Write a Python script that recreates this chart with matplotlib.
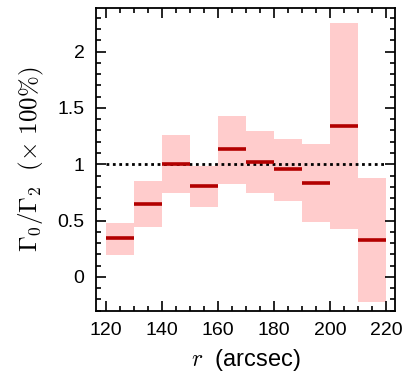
import numpy as np
import matplotlib
matplotlib.use("Agg")
import matplotlib.pyplot as plt
from matplotlib.ticker import MultipleLocator

plt.rcParams.update({
    "font.family": "Liberation Sans",
    "mathtext.fontset": "cm",
    "font.size": 14,
})

# bin edges (arcsec) and ratio values
r_lo = [120, 130, 140, 150, 160, 170, 180, 190, 200, 210]
r_hi = [130, 140, 150, 160, 170, 180, 190, 200, 210, 220]
ratio = [0.343, 0.645, 1.00, 0.807, 1.133, 1.02, 0.958, 0.837, 1.343, 0.331]
ratio_lo = [0.195, 0.446, 0.742, 0.618, 0.822, 0.742, 0.677, 0.488, 0.426, -0.219]
ratio_hi = [0.479, 0.849, 1.257, 0.988, 1.429, 1.295, 1.224, 1.183, 2.257, 0.878]

fig = plt.figure(figsize=(4.15, 3.87), dpi=100)
ax = fig.add_axes([0.2306, 0.197, 0.7219, 0.7816])

for a, b, lo, hi in zip(r_lo, r_hi, ratio_lo, ratio_hi):
    ax.fill_between([a, b], lo, hi, color="#ffcccc", lw=0, zorder=1)
for a, b, m in zip(r_lo, r_hi, ratio):
    ax.plot([a, b], [m, m], color="#b30000", lw=2.6, solid_capstyle="butt", zorder=3)

ax.plot([r_lo[0], r_hi[-1]], [1, 1], color="black", ls=(0, (1, 1.3)), lw=2, zorder=2)

ax.set_xlim(116.3, 223.3)
ax.set_ylim(-0.30, 2.384)
ax.xaxis.set_major_locator(MultipleLocator(20))
ax.xaxis.set_minor_locator(MultipleLocator(5))
ax.yaxis.set_major_locator(MultipleLocator(0.5))
ax.yaxis.set_minor_locator(MultipleLocator(0.1))
ax.yaxis.set_major_formatter(plt.FuncFormatter(lambda v, p: f"{v:g}"))
ax.tick_params(which="both", direction="in", top=True, right=True, width=1.2)
ax.tick_params(which="major", length=7, labelsize=14, pad=8)
ax.tick_params(which="minor", length=3.5)
for s in ax.spines.values():
    s.set_linewidth(1.3)

ax.set_xlabel("$r$  (arcsec)", fontsize=17, labelpad=6)
ax.set_ylabel(r"$\Gamma_0/\Gamma_2\ \ (\times\ 100\%)$", fontsize=18, labelpad=8)

fig.savefig("out.png", dpi=100)
